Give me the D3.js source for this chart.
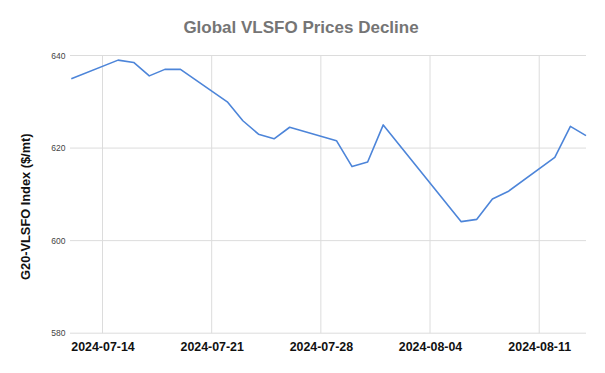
<!DOCTYPE html>
<html>
<head>
<meta charset="utf-8">
<script src="https://cdn.jsdelivr.net/npm/d3@7"></script>
<style>
html,body{margin:0;padding:0;background:#fff;}
svg{display:block;font-family:Arial,"Liberation Sans",sans-serif;}
</style>
</head>
<body>
<svg id="chart" width="605" height="373"></svg>
<script>
const dates = ["2024-07-12","2024-07-15","2024-07-16","2024-07-17","2024-07-18","2024-07-19",
  "2024-07-22","2024-07-23","2024-07-24","2024-07-25","2024-07-26",
  "2024-07-29","2024-07-30","2024-07-31","2024-08-01",
  "2024-08-06","2024-08-07","2024-08-08","2024-08-09",
  "2024-08-12","2024-08-13","2024-08-14"];
const prices = [635.0,639.0,638.5,635.6,637.0,637.0,
  630.0,625.9,623.0,622.0,624.5,
  621.6,616.0,617.0,625.0,
  604.1,604.6,609.0,610.6,
  618.0,624.7,622.7];
const xTickLabels = ["2024-07-14","2024-07-21","2024-07-28","2024-08-04","2024-08-11"];
const yTicks = [580,600,620,640];
const title = "Global VLSFO Prices Decline";
const yTitle = "G20-VLSFO Index ($/mt)";

const parse = d3.utcParse("%Y-%m-%d");
const data = dates.map((d,i)=>({date:parse(d), value:prices[i]}));

const svg = d3.select("#chart");
const x = d3.scaleUtc().domain(d3.extent(data,d=>d.date)).range([71.3,586]);
const y = d3.scaleLinear().domain([580,640]).range([333.2,55.5]);
const left = 70, right = 586;

// horizontal grid
svg.append("g").selectAll("line").data(yTicks).join("line")
  .attr("x1",left).attr("x2",right)
  .attr("y1",d=>y(d)).attr("y2",d=>y(d))
  .attr("stroke","#dcdcdc").attr("stroke-width",1);

// vertical grid
const xt = xTickLabels.map(parse);
svg.append("g").selectAll("line").data(xt).join("line")
  .attr("x1",d=>x(d)).attr("x2",d=>x(d))
  .attr("y1",y(640)).attr("y2",y(580))
  .attr("stroke","#dcdcdc").attr("stroke-width",1);

// y axis labels
const yAxis = d3.axisLeft(y).tickValues(yTicks).tickSize(0).tickPadding(4).tickFormat(d3.format("d"));
const gy = svg.append("g").attr("transform",`translate(${left-0.5},0)`).call(yAxis);
gy.select(".domain").remove();
gy.selectAll("text").attr("fill","#444").style("font-size","8.5px").style("font-family","Arial,'Liberation Sans',sans-serif");

// x axis labels
const xAxis = d3.axisBottom(x).tickValues(xt).tickSize(0).tickPadding(9).tickFormat(d3.utcFormat("%Y-%m-%d"));
const gx = svg.append("g").attr("transform",`translate(0,${y(580)})`).call(xAxis);
gx.select(".domain").remove();
gx.selectAll("text").attr("fill","#111").style("font-size","12.4px").style("font-weight","bold").style("font-family","Arial,'Liberation Sans',sans-serif");

// line
const line = d3.line().x(d=>x(d.date)).y(d=>y(d.value));
svg.append("path").datum(data).attr("d",line)
  .attr("fill","none").attr("stroke","#4d85d9").attr("stroke-width",1.6)
  .attr("stroke-linejoin","round");

// title
svg.append("text").attr("x",301).attr("y",29).attr("text-anchor","middle")
  .attr("dominant-baseline","middle")
  .style("font-size","17px").style("font-weight","bold").attr("fill","#757575")
  .text(title);

// y title
svg.append("text").attr("transform","translate(27,206.7) rotate(-90)")
  .attr("text-anchor","middle").attr("dominant-baseline","middle")
  .style("font-size","12.8px").style("font-weight","bold").attr("fill","#111")
  .text(yTitle);
</script>
</body>
</html>
